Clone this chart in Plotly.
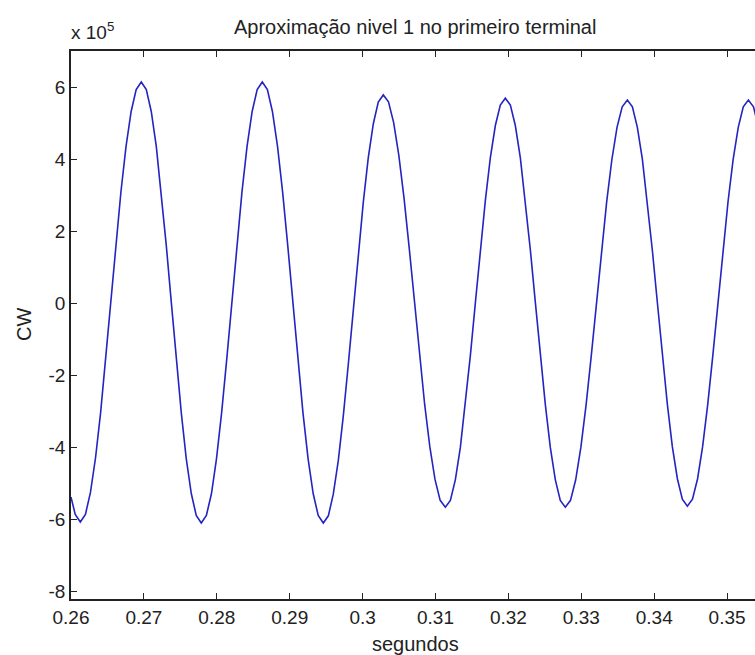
import plotly.graph_objects as go

# time (s) and CW values (in units of 1e5)
t_s = [0.26000, 0.26058, 0.26128,
       0.26198, 0.26267, 0.26337, 0.26407, 0.26476, 0.26546, 0.26616, 0.26685, 0.26755, 0.26825, 0.26894, 0.26964,
       0.27033, 0.27101, 0.27170, 0.27238, 0.27307, 0.27376, 0.27444, 0.27513, 0.27581, 0.27650, 0.27718, 0.27787,
       0.27857, 0.27927, 0.27996, 0.28066, 0.28136, 0.28206, 0.28275, 0.28345, 0.28415, 0.28485, 0.28554, 0.28624,
       0.28694, 0.28763, 0.28833, 0.28903, 0.28973, 0.29043, 0.29112, 0.29182, 0.29252, 0.29322, 0.29391, 0.29461,
       0.29530, 0.29598, 0.29667, 0.29735, 0.29804, 0.29873, 0.29941, 0.30010, 0.30078, 0.30147, 0.30215, 0.30284,
       0.30355, 0.30426, 0.30497, 0.30568, 0.30639, 0.30710, 0.30780, 0.30851, 0.30922, 0.30993, 0.31064, 0.31135,
       0.31204, 0.31272, 0.31341, 0.31409, 0.31478, 0.31547, 0.31615, 0.31684, 0.31752, 0.31821, 0.31889, 0.31958,
       0.32027, 0.32095, 0.32164, 0.32232, 0.32301, 0.32370, 0.32438, 0.32507, 0.32575, 0.32644, 0.32712, 0.32781,
       0.32852, 0.32923, 0.32994, 0.33065, 0.33136, 0.33207, 0.33277, 0.33348, 0.33419, 0.33490, 0.33561, 0.33632,
       0.33701, 0.33769, 0.33838, 0.33906, 0.33975, 0.34044, 0.34112, 0.34181, 0.34249, 0.34318, 0.34386, 0.34455,
       0.34525, 0.34595, 0.34664, 0.34734, 0.34804, 0.34874, 0.34943, 0.35013, 0.35083, 0.35153, 0.35222, 0.35292,
       0.35362, 0.35431, 0.35501]
cw_e5 = [-5.39, -5.87, -6.08,
         -5.87, -5.26, -4.29, -3.03, -1.55, 0.03, 1.61, 3.09, 4.35, 5.32, 5.93, 6.14,
         5.93, 5.32, 4.35, 3.08, 1.60, 0.02, -1.57, -3.05, -4.32, -5.29, -5.90, -6.11,
         -5.90, -5.29, -4.32, -3.05, -1.57, 0.02, 1.60, 3.08, 4.35, 5.32, 5.93, 6.14,
         5.93, 5.32, 4.35, 3.08, 1.60, 0.02, -1.57, -3.05, -4.32, -5.29, -5.90, -6.11,
         -5.91, -5.31, -4.37, -3.14, -1.70, -0.17, 1.37, 2.81, 4.04, 4.98, 5.58, 5.78,
         5.59, 5.01, 4.10, 2.92, 1.54, 0.06, -1.43, -2.81, -3.99, -4.90, -5.48, -5.67,
         -5.48, -4.91, -4.01, -2.83, -1.46, 0.01, 1.48, 2.85, 4.03, 4.93, 5.50, 5.69,
         5.50, 4.93, 4.03, 2.85, 1.48, 0.01, -1.46, -2.83, -4.01, -4.91, -5.48, -5.67,
         -5.48, -4.91, -4.01, -2.84, -1.48, -0.02, 1.45, 2.81, 3.98, 4.88, 5.45, 5.64,
         5.45, 4.88, 3.99, 2.82, 1.46, 0.00, -1.46, -2.82, -3.99, -4.88, -5.45, -5.64,
         -5.45, -4.88, -3.99, -2.82, -1.46, 0.00, 1.46, 2.82, 3.99, 4.88, 5.45, 5.64,
         5.45, 4.88, 3.99]

x_ticks = [0.26, 0.27, 0.28, 0.29, 0.30, 0.31, 0.32, 0.33, 0.34, 0.35]
x_ticklabels = ["0.26", "0.27", "0.28", "0.29", "0.3", "0.31", "0.32", "0.33", "0.34", "0.35"]
y_ticks = [-8, -6, -4, -2, 0, 2, 4, 6]
y_ticklabels = ["-8", "-6", "-4", "-2", "0", "2", "4", "6"]

FONT = "Liberation Sans, Arial, Helvetica, sans-serif"
TXT = "#222222"

fig = go.Figure()
fig.add_trace(go.Scatter(
    x=t_s, y=cw_e5, mode="lines",
    line=dict(color="#2424c0", width=1.6),
    showlegend=False, hoverinfo="skip",
))

W, H = 755, 655
L, R, T, B = 71, 0, 51, 56

fig.update_layout(
    width=W, height=H,
    margin=dict(l=L, r=R, t=T, b=B, pad=0),
    paper_bgcolor="white", plot_bgcolor="white",
    font=dict(family=FONT, size=19, color=TXT),
    xaxis=dict(
        range=[0.26, 0.26 + (W - L) / 7290.0],
        tickmode="array", tickvals=x_ticks, ticktext=x_ticklabels,
        ticks="inside", ticklen=6, tickwidth=1.3, tickcolor="#222222",
        showline=True, linecolor="#222222", linewidth=1.5, mirror="ticks",
        showgrid=False, zeroline=False,
        tickfont=dict(family=FONT, size=19, color=TXT),
    ),
    yaxis=dict(
        range=[-8.22, 7.0],
        tickmode="array", tickvals=y_ticks, ticktext=y_ticklabels,
        ticks="inside", ticklen=6, tickwidth=1.3, tickcolor="#222222",
        showline=True, linecolor="#222222", linewidth=1.5, mirror=False,
        showgrid=False, zeroline=False,
        tickfont=dict(family=FONT, size=19, color=TXT),
    ),
)

fig.add_annotation(
    text="Aproximação nivel 1 no primeiro terminal",
    xref="paper", yref="paper", x=(415 - L) / (W - L), y=1,
    yshift=24, xanchor="center", yanchor="middle", showarrow=False,
    font=dict(family=FONT, size=20, color=TXT),
)
fig.add_annotation(
    text="x 10<sup>5</sup>",
    xref="paper", yref="paper", x=0, y=1, xshift=-2,
    yshift=6, xanchor="left", yanchor="bottom", showarrow=False,
    font=dict(family=FONT, size=19, color=TXT),
)
fig.add_annotation(
    text="CW",
    xref="paper", yref="paper", x=0, y=0.5, xshift=-(L - 24),
    xanchor="center", yanchor="middle", textangle=-90, showarrow=False,
    font=dict(family=FONT, size=20, color=TXT),
)
fig.add_annotation(
    text="segundos",
    xref="paper", yref="paper", x=(415 - L) / (W - L), y=0,
    yshift=-(644 - (H - B)), xanchor="center", yanchor="middle", showarrow=False,
    font=dict(family=FONT, size=20, color=TXT),
)

fig.write_html("out.html")
